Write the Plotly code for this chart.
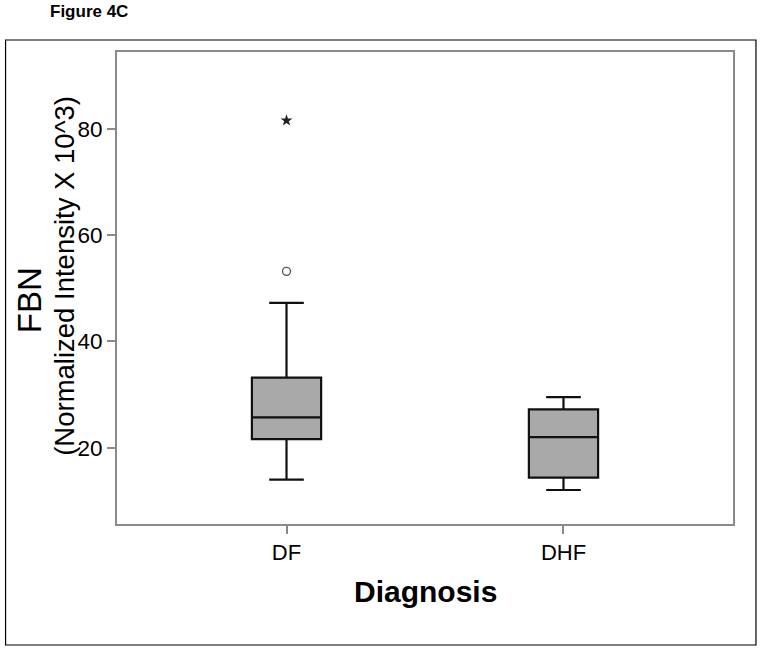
import plotly.graph_objects as go

categories = ["DF", "DHF"]
q1 = [21.6, 14.35]
median = [25.7, 22.0]
q3 = [33.2, 27.2]
lower_whisker = [13.97, 12.03]
upper_whisker = [47.25, 29.5]
outlier_circle_cat = ["DF"]
outlier_circle_val = [53.2]
extreme_star_cat = ["DF"]
extreme_star_val = [81.6]
y_ticks = [20, 40, 60, 80]

FONT = "Liberation Sans, Arial, sans-serif"
AXIS_GRAY = "#8a8a8a"

fig = go.Figure()
fig.add_trace(go.Box(
    x=categories, q1=q1, median=median, q3=q3,
    lowerfence=lower_whisker, upperfence=upper_whisker,
    fillcolor="#a9a9a9", line=dict(color="#111111", width=2.2),
    width=0.25, whiskerwidth=0.5, boxpoints=False, showlegend=False,
    hoverinfo="skip",
))
fig.add_trace(go.Scatter(
    x=outlier_circle_cat, y=outlier_circle_val, mode="markers",
    marker=dict(symbol="circle-open", size=8, color="#555555", line=dict(width=1.3, color="#555555")),
    showlegend=False,
))
fig.add_trace(go.Scatter(
    x=extreme_star_cat, y=extreme_star_val, mode="markers",
    marker=dict(symbol="star", size=9, color="#222222"),
    showlegend=False,
))

fig.update_layout(
    width=762, height=651,
    margin=dict(l=116.5, r=29, t=52, b=127),
    paper_bgcolor="white", plot_bgcolor="white",
    font=dict(family=FONT, color="black"),
    showlegend=False,
    xaxis=dict(
        type="category", categoryorder="array", categoryarray=categories,
        range=[-0.612, 1.612], showgrid=False, zeroline=False,
        showline=True, linecolor=AXIS_GRAY, linewidth=2, mirror=True,
        ticks="outside", ticklen=8, tickcolor=AXIS_GRAY, tickwidth=1.5,
        tickfont=dict(size=22, family=FONT, color="black"),
    ),
    yaxis=dict(
        range=[5.63, 94.5], tickvals=y_ticks, showgrid=False, zeroline=False,
        showline=True, linecolor=AXIS_GRAY, linewidth=2, mirror=True,
        ticks="outside", ticklen=8, tickcolor=AXIS_GRAY, tickwidth=1.5,
        tickfont=dict(size=22.5, family=FONT, color="black"),
    ),
    shapes=[dict(
        type="rect", xref="paper", yref="paper",
        x0=-0.1809, x1=1.0373, y0=-0.2564, y1=1.0254,
        line=dict(color="black", width=1.2), fillcolor="rgba(0,0,0,0)", layer="below",
    )],
    annotations=[
        dict(text="<b>Figure 4C</b>", xref="paper", yref="paper",
             x=-0.1127, y=1.085, xanchor="left", yanchor="middle",
             showarrow=False, font=dict(size=17, family=FONT)),
        dict(text="FBN", xref="paper", yref="paper", textangle=-90,
             x=-0.141, y=0.4746, xanchor="center", yanchor="middle",
             showarrow=False, font=dict(size=33, family=FONT)),
        dict(text="(Normalized Intensity X 10^3)", xref="paper", yref="paper", textangle=-90,
             x=-0.085, y=0.525, xanchor="center", yanchor="middle",
             showarrow=False, font=dict(size=27.5, family=FONT)),
        dict(text="<b>Diagnosis</b>", xref="paper", yref="paper",
             x=0.5, y=-0.144, xanchor="center", yanchor="middle",
             showarrow=False, font=dict(size=30, family=FONT)),
    ],
)

fig.write_html("out.html", config={"displayModeBar": False},
               post_script="document.body.style.margin='0';")
